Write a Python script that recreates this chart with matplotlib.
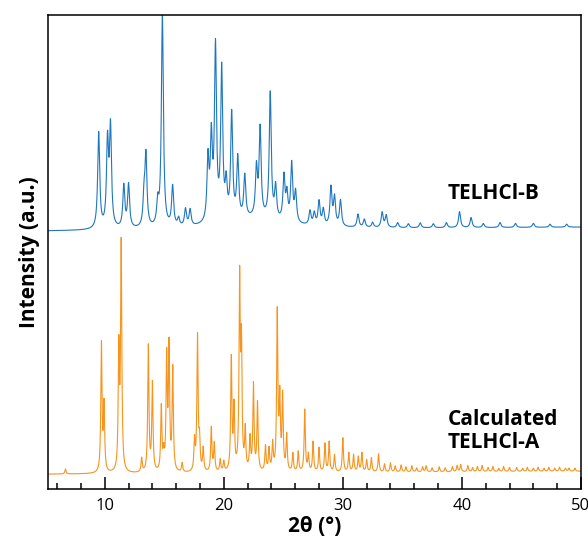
import numpy as np
import matplotlib
matplotlib.use("Agg")
import matplotlib.pyplot as plt

plt.rcParams["font.family"] = ["Open Sans", "DejaVu Sans"]

# %% Peak lists (2-theta in degrees, height in a.u.)
# Experimental TELHCl-B pattern
exp_pos = [9.49, 10.23, 10.48, 11.6, 12.0, 13.3, 13.46, 14.45, 14.84, 15.7, 16.2,
           16.78, 17.17, 18.67, 18.95, 19.3, 19.82, 20.2, 20.66, 21.17, 21.76,
           22.74, 23.05, 23.9, 24.35, 25.05, 25.3, 25.7, 26.03, 27.24, 27.6, 28.0,
           28.36, 29.0, 29.3, 29.8, 31.27, 31.8, 32.5, 33.3, 33.64, 34.6, 35.5,
           36.5, 37.6, 38.7, 39.8, 40.77, 41.8, 43.2, 44.5, 46.0, 47.4, 48.8,
           22.5]
exp_height = [96, 84, 98, 42, 43, 28, 70, 22, 212, 40, 8,
              17, 16, 62, 80, 172, 150, 34, 105, 60, 42,
              48, 88, 126, 32, 44, 26, 58, 30, 14, 12, 24,
              16, 38, 28, 26, 13, 8, 5, 15, 12, 5, 4,
              5, 4, 5, 16, 10, 4, 5, 4, 4, 3, 3,
              10]
exp_fwhm = [0.2] * 54 + [6.0]

# Calculated TELHCl-A pattern
calc_pos = [6.7, 9.72, 9.94, 11.18, 11.38, 13.1, 13.66, 14.0, 14.75, 14.95, 15.2,
            15.4, 15.71, 16.5, 17.54, 17.79, 17.96, 18.27, 18.95, 19.2, 19.7, 20.0,
            20.63, 20.86, 21.33, 21.48, 21.8, 22.2, 22.49, 22.83, 23.5, 23.8, 24.1,
            24.49, 24.7, 24.94, 25.28, 25.8, 26.25, 26.8, 27.1, 27.5, 28.0, 28.5,
            28.85, 29.3, 30.0, 30.5, 30.9, 31.3, 31.6, 32.0, 32.4, 33.0, 33.5, 34.0,
            34.4, 34.9, 35.3, 35.8, 36.2, 36.7, 37.0, 37.5, 38.1, 38.6, 39.2, 39.6,
            39.9, 40.5, 40.9, 41.3, 41.7, 42.2, 42.6, 43.1, 43.5, 44.0, 44.6, 45.1,
            45.5, 46.0, 46.4, 46.9, 47.3, 47.8, 48.2, 48.7, 49.0, 49.5]
calc_height = [5, 128, 66, 120, 226, 14, 126, 88, 64, 16, 112,
               122, 102, 9, 30, 135, 28, 23, 44, 28, 12, 10,
               112, 62, 188, 120, 40, 32, 86, 68, 25, 22, 27,
               158, 70, 74, 36, 18, 20, 62, 17, 30, 24, 28,
               30, 17, 34, 19, 17, 15, 19, 12, 14, 18, 8, 9,
               6, 7, 5, 6, 4, 5, 6, 4, 5, 4, 5, 6,
               7, 6, 4, 5, 6, 4, 5, 3, 5, 4, 4, 3,
               4, 3, 4, 3, 4, 3, 4, 3, 3, 3]
calc_fwhm = 0.12

exp_offset = 260
exp_base = [-2, 2]        # baseline at start / end of the range
calc_base = [15, 18]

two_theta = np.arange(5.0, 50.01, 0.01)


def pattern(pos, height, fwhm):
    fwhm = np.broadcast_to(fwhm, len(pos))
    y = np.zeros_like(two_theta)
    for p, h, w in zip(pos, height, fwhm):
        g = w / 2
        y += h * g**2 / ((two_theta - p)**2 + g**2)
    return y


exp_y = exp_offset + np.interp(two_theta, [5, 50], exp_base) + pattern(exp_pos, exp_height, exp_fwhm)
calc_y = np.interp(two_theta, [5, 50], calc_base) + pattern(calc_pos, calc_height, calc_fwhm)

# %% Plot
fig = plt.figure(figsize=(5.88, 5.43), dpi=100)
ax = fig.add_axes([0.082, 0.099, 0.906, 0.873])

ax.plot(two_theta, exp_y, color="#1f77c0", lw=0.8)
ax.plot(two_theta, calc_y, color="#f7941d", lw=0.8)

ax.set_xlim(5.25, 50)
ax.set_ylim(0, 474)
ax.set_yticks([])
ax.set_xticks([10, 20, 30, 40, 50])
ax.set_xticks(np.arange(6, 50, 2), minor=True)
ax.tick_params(axis="x", which="major", direction="in", length=9, width=1.1,
               labelsize=12, pad=6)
ax.tick_params(axis="x", which="minor", direction="in", length=4.5, width=1.1)
for s in ax.spines.values():
    s.set_linewidth(1.1)

ax.set_xlabel("2θ (°)", fontsize=15, fontweight="bold", labelpad=2)
ax.set_ylabel("Intensity (a.u.)", fontsize=15, fontweight="bold", labelpad=6)

ax.text(38.8, 296, "TELHCl-B", fontsize=15, fontweight="bold", va="center")
ax.text(38.8, 58, "Calculated\nTELHCl-A", fontsize=15, fontweight="bold",
        va="center", linespacing=1.15)

fig.savefig("out.png", dpi=100)
